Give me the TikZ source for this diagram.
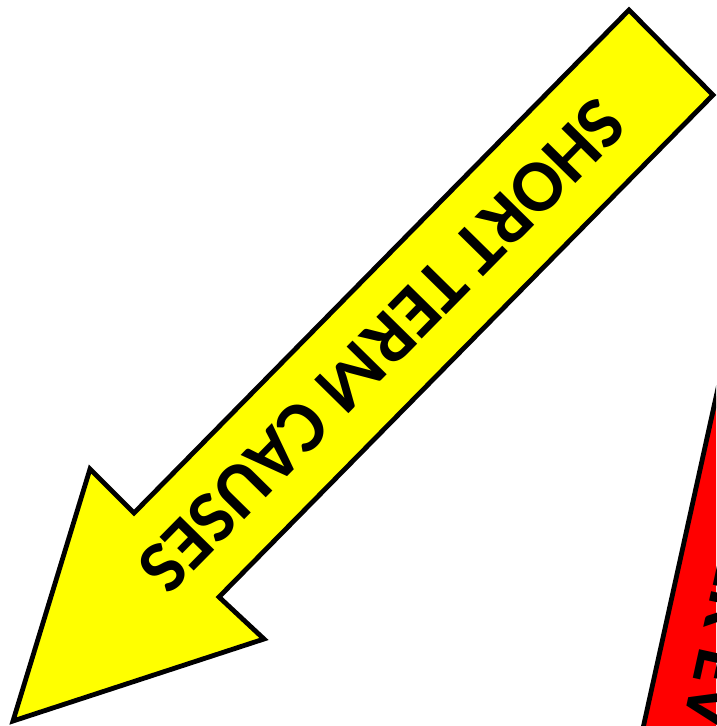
\documentclass[tikz,border=0pt]{standalone}
\usepackage{fontspec}
\newfontfamily\carl{Carlito}
\definecolor{yelfill}{RGB}{255,255,0}
\definecolor{redfill}{RGB}{255,0,0}
\tikzset{
  arrowshape/.style={draw=black, line width=4.8pt, line join=miter},
  bigtext/.style={inner sep=0pt, outer sep=0pt, font=\carl\bfseries\fontsize{74}{74}\selectfont, text=black}
}
\begin{document}
\begin{tikzpicture}[x=1pt,y=-1pt]
\useasboundingbox (0,0) rectangle (716,726);
% red arrow (partly outside the picture)
\begin{scope}
  \clip (0,0) rectangle (716,726);
  \draw[arrowshape, fill=redfill] (729.3,337) -- (631.6,780) -- (820,780) -- (820,337) -- cycle;
  \node[bigtext, anchor=base west, rotate=-102.45] (longc) at (700.2,645) {\llap{TRIGGER }EVENT};
\end{scope}
% yellow arrow
\draw[arrowshape, fill=yelfill] (629,10) -- (713,95) -- (219,597) -- (264,639) -- (13,721) -- (90,469) -- (134,513) -- cycle;
\node[bigtext, rotate=225.46] (shortc) at (382,346) {SHORT TERM CAUSES};
\end{tikzpicture}
\end{document}
